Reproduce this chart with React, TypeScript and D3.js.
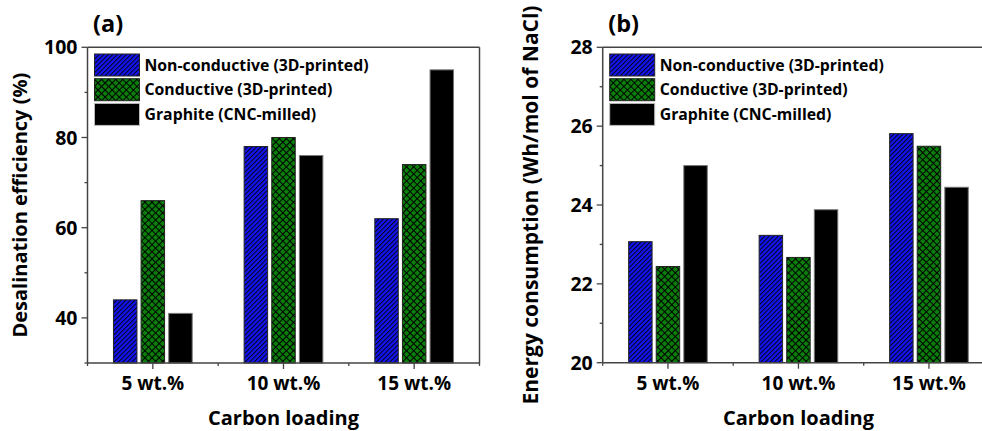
import React from "react";
import * as d3 from "d3";

const categories = ["5 wt.%", "10 wt.%", "15 wt.%"];
const seriesNames = ["Non-conductive (3D-printed)", "Conductive (3D-printed)", "Graphite (CNC-milled)"];
const efficiencyNonConductive = [44, 78, 62];
const efficiencyConductive = [66, 80, 74];
const efficiencyGraphite = [41, 76, 95];
const energyNonConductive = [23.07, 23.23, 25.81];
const energyConductive = [22.44, 22.67, 25.49];
const energyGraphite = [25.0, 23.88, 24.45];
const effMajorTicks = [40, 60, 80, 100];
const effMinorTicks = [30, 50, 70, 90];
const energyMajorTicks = [20, 22, 24, 26, 28];
const energyMinorTicks = [21, 23, 25, 27];

const FONT = "'Open Sans', sans-serif";
const fills = ["url(#hatchBlue)", "url(#crossGreen)", "#000"];
const strokes = ["#222", "#222", "#777"];
const AXIS = "#444";

type PanelProps = {
  left: number; right: number; top: number; bottom: number;
  domain: [number, number];
  major: number[]; minor: number[];
  series: number[][];
  label: string; yTitle: string; yTitleX: number; yTitleSize: number;
  clipRight: number;
};

function Panel(p: PanelProps) {
  const x = d3.scaleBand<string>().domain(categories).range([p.left, p.right]).padding(0);
  const sub = d3.scaleBand<number>().domain([0, 1, 2]).range([0, x.bandwidth()]).paddingInner(0.15).paddingOuter(0.94);
  const y = d3.scaleLinear().domain(p.domain).range([p.bottom, p.top]);
  const cx = (p.left + p.right) / 2;
  const cy = (p.top + p.bottom) / 2;
  const boundaries = [...categories.map((c) => x(c)!), p.right];
  return (
    <g>
      <text x={p.left + 5.5} y={32} fontFamily={FONT} fontWeight="bold" fontSize={23.5}>{p.label}</text>
      {categories.map((c, ci) => (
        <g key={c}>
          {p.series.map((s, si) => (
            <rect key={si}
              x={x(c)! + sub(si)!}
              y={y(s[ci])}
              width={sub.bandwidth()}
              height={p.bottom - y(s[ci])}
              fill={fills[si]}
              stroke={strokes[si]}
              strokeWidth={1}
            />
          ))}
        </g>
      ))}
      <line x1={p.left} x2={p.clipRight} y1={p.top} y2={p.top} stroke={AXIS} strokeWidth={1.5} />
      <line x1={p.right} x2={p.right} y1={p.top} y2={p.bottom} stroke={AXIS} strokeWidth={1.5} />
      <line x1={p.left} x2={p.left} y1={p.top} y2={p.bottom} stroke={AXIS} strokeWidth={1.5} />
      <line x1={p.left} x2={p.clipRight} y1={p.bottom} y2={p.bottom} stroke={AXIS} strokeWidth={1.5} />
      {p.major.map((t) => (
        <g key={"M" + t}>
          <line x1={p.left - 6} x2={p.left} y1={y(t)} y2={y(t)} stroke={AXIS} strokeWidth={1.3} />
          <text x={p.left - 10} y={y(t)} dy="0.36em" textAnchor="end" fontFamily={FONT} fontWeight="bold" fontSize={19.5}>{t}</text>
        </g>
      ))}
      {p.minor.map((t) => (
        <line key={"m" + t} x1={p.left - 3} x2={p.left} y1={y(t)} y2={y(t)} stroke={AXIS} strokeWidth={1.3} />
      ))}
      {categories.map((c) => (
        <g key={"x" + c}>
          <line x1={x(c)! + x.bandwidth() / 2} x2={x(c)! + x.bandwidth() / 2} y1={p.bottom} y2={p.bottom + 6} stroke={AXIS} strokeWidth={1.3} />
          <text x={x(c)! + x.bandwidth() / 2} y={390} textAnchor="middle" fontFamily={FONT} fontWeight="bold" fontSize={19}>{c}</text>
        </g>
      ))}
      {boundaries.map((b, i) => (
        <line key={"b" + i} x1={b} x2={b} y1={p.bottom} y2={p.bottom + 3} stroke={AXIS} strokeWidth={1.3} />
      ))}
      <text x={cx} y={424.5} textAnchor="middle" fontFamily={FONT} fontWeight="bold" fontSize={20}>Carbon loading</text>
      <text transform={`translate(${p.yTitleX},${cy}) rotate(-90)`} textAnchor="middle" fontFamily={FONT} fontWeight="bold" fontSize={p.yTitleSize}>{p.yTitle}</text>
      {seriesNames.map((n, i) => (
        <g key={n} transform={`translate(${p.left + 7},${54 + i * 24.7})`}>
          <rect x={0} y={0} width={45} height={22} fill={fills[i]} stroke={i === 2 ? "#bbb" : "#222"} strokeWidth={1} />
          <text x={50} y={11} dy="0.36em" fontFamily={FONT} fontWeight="bold" fontSize={15.8}>{n}</text>
        </g>
      ))}
    </g>
  );
}

export default function App() {
  return (
    <svg width={982} height={431} style={{ position: "absolute", left: 0, top: 0, background: "#fff" }}>
      <defs>
        <pattern id="hatchBlue" patternUnits="userSpaceOnUse" width={3.2} height={3.2} patternTransform="rotate(45)">
          <rect width={3.2} height={3.2} fill="#1414f0" />
          <line x1={0.5} x2={0.5} y1={0} y2={3.2} stroke="#000" strokeWidth={0.9} />
        </pattern>
        <pattern id="crossGreen" patternUnits="userSpaceOnUse" width={5} height={5} patternTransform="rotate(45)">
          <rect width={5} height={5} fill="#0a7d0a" />
          <line x1={0.5} x2={0.5} y1={0} y2={5} stroke="#000" strokeWidth={1} />
          <line x1={0} x2={5} y1={0.5} y2={0.5} stroke="#000" strokeWidth={1} />
        </pattern>
      </defs>
      <rect width={982} height={431} fill="#fff" />
      <Panel left={87.5} right={479.5} top={47.3} bottom={363} domain={[30, 100]}
        major={effMajorTicks} minor={effMinorTicks}
        series={[efficiencyNonConductive, efficiencyConductive, efficiencyGraphite]}
        label="(a)" yTitle="Desalination efficiency (%)" yTitleX={27} yTitleSize={20}
        clipRight={479.5} />
      <Panel left={602.7} right={994.2} top={47.3} bottom={362.7} domain={[20, 28]}
        major={energyMajorTicks} minor={energyMinorTicks}
        series={[energyNonConductive, energyConductive, energyGraphite]}
        label="(b)" yTitle="Energy consumption (Wh/mol of NaCl)" yTitleX={537.5} yTitleSize={21}
        clipRight={994.2} />
    </svg>
  );
}
